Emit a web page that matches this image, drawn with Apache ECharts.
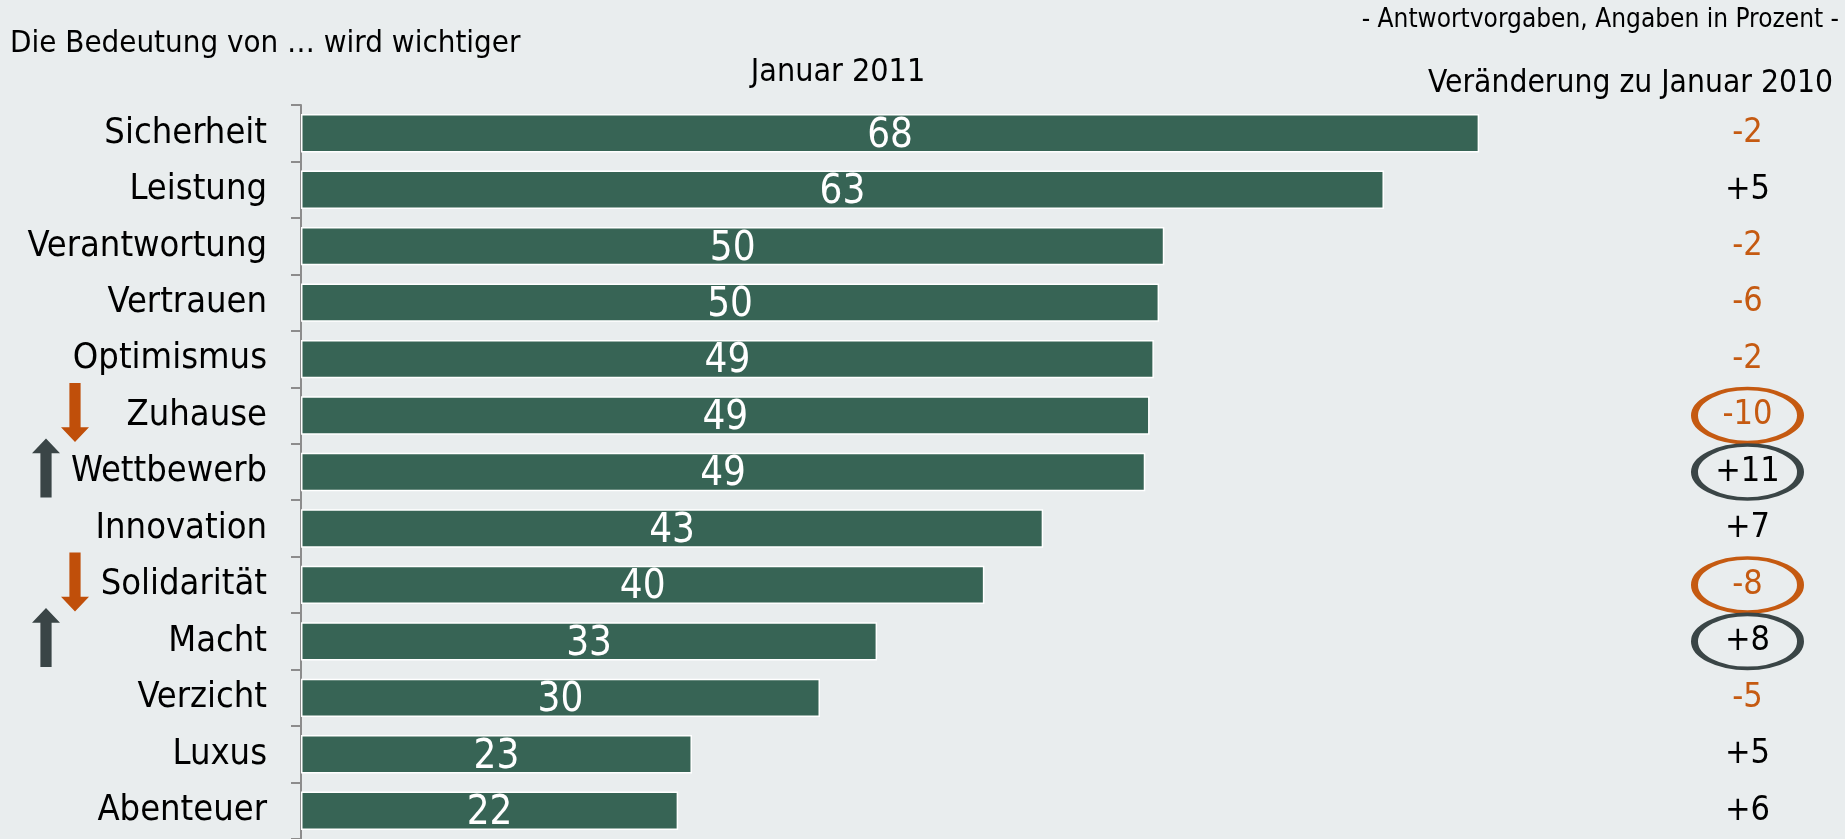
<!DOCTYPE html>
<html>
<head>
<meta charset="utf-8">
<script src="https://cdn.jsdelivr.net/npm/echarts@6/dist/echarts.min.js"></script>
<style>
html,body{margin:0;padding:0;background:#E9EDEE;}
#chart{width:1845px;height:839px;}
</style>
</head>
<body>
<div id="chart"></div>
<script>
// ---- data ----
const categories = ["Sicherheit","Leistung","Verantwortung","Vertrauen","Optimismus","Zuhause","Wettbewerb","Innovation","Solidarität","Macht","Verzicht","Luxus","Abenteuer"];
const values2011 = [68.1, 62.6, 49.9, 49.6, 49.3, 49.05, 48.8, 42.9, 39.5, 33.3, 30.0, 22.6, 21.8];
const changeVs2010 = [-2, 5, -2, -6, -2, -10, 11, 7, -8, 8, -5, 5, 6];
const highlighted = ["Zuhause","Wettbewerb","Solidarität","Macht"];
const titleText = "Die Bedeutung von … wird wichtiger";
const noteText = "- Antwortvorgaben, Angaben in Prozent -";
const col1Header = "Januar 2011";
const col2Header = "Veränderung zu Januar 2010";

// ---- styles ----
const FONT = "'DejaVu Sans Condensed', 'DejaVu Sans', sans-serif";
const BG = "#E9EDEE";
const BAR = "#376455";
const ORANGE = "#C55A11";
const DARK = "#3A4546";

const TOP = 105, HEIGHT = 737;

const fmtChange = v => (v > 0 ? "+" : "") + v;

const changeData = categories.map((c, i) => {
  const v = changeVs2010[i];
  const hl = highlighted.includes(c);
  return {
    value: [0, c],
    symbolSize: hl ? [106, 54] : 0,
    itemStyle: {color: 'rgba(0,0,0,0)', opacity: 1, borderColor: v < 0 ? ORANGE : DARK, borderWidth: hl ? 5 : 0},
    label: {color: v < 0 ? ORANGE : '#000000'},
    change: v
  };
});

const DOWN = 'path://M3,0 L7,0 L7,15 L10,15 L5,20 L0,15 L3,15 Z';
const UP = 'path://M5,0 L10,5 L7,5 L7,20 L3,20 L3,5 L0,5 Z';
const arrowData = categories.map((c, i) => ({c, v: changeVs2010[i]}))
  .filter(d => highlighted.includes(d.c))
  .map(d => ({
    value: [0, d.c],
    symbol: d.v < 0 ? DOWN : UP,
    symbolOffset: [d.v < 0 ? 15 : -14, d.v < 0 ? -3 : -4],
    itemStyle: {color: d.v < 0 ? '#C04F0A' : DARK, opacity: 1}
  }));

const chart = echarts.init(document.getElementById('chart'));
const catAxis = (gi, show) => ({
  type: 'category', gridIndex: gi, data: categories, inverse: true,
  axisLine: {show: show, lineStyle: {color: '#8C8C8C', width: 2}},
  axisTick: {show: show, length: 10, lineStyle: {color: '#8C8C8C', width: 2}},
  axisLabel: {show: show, color: '#000', fontSize: 36, fontFamily: FONT, margin: 34},
  splitLine: {show: false}
});
chart.setOption({
  backgroundColor: BG,
  animation: false,
  graphic: [
    {type: 'text', left: 10, top: 28, style: {text: titleText, font: "31px " + FONT, fill: '#000'}},
    {type: 'text', right: 6, top: 7, style: {text: noteText, font: "26px " + FONT, fill: '#000'}},
    {type: 'text', x: 838, y: 73, style: {text: col1Header, font: "32px " + FONT, fill: '#000', textAlign: 'center', textVerticalAlign: 'middle'}},
    {type: 'text', right: 12, top: 68, style: {text: col2Header, font: "31.5px " + FONT, fill: '#000'}}
  ],
  grid: [
    {left: 301, top: TOP, width: 1384, height: HEIGHT},
    {left: 1690, top: TOP, width: 115, height: HEIGHT},
    {left: 20, top: TOP, width: 80, height: HEIGHT}
  ],
  xAxis: [
    {type: 'value', gridIndex: 0, min: 0, max: 80, show: false},
    {type: 'value', gridIndex: 1, min: -1, max: 1, show: false},
    {type: 'value', gridIndex: 2, min: -1, max: 1, show: false}
  ],
  yAxis: [catAxis(0, true), catAxis(1, false), catAxis(2, false)],
  series: [
    {
      type: 'bar', xAxisIndex: 0, yAxisIndex: 0, data: values2011,
      barCategoryGap: '32%',
      itemStyle: {color: BAR, borderColor: '#FFFFFF', borderWidth: 1.5},
      label: {show: true, position: 'inside', color: '#FFFFFF', fontSize: 40, fontFamily: FONT,
        offset: [0, 3], formatter: p => Math.round(p.value)}
    },
    {
      type: 'scatter', xAxisIndex: 1, yAxisIndex: 1, symbol: 'circle', data: changeData,
      label: {show: true, position: 'inside', fontSize: 34, fontFamily: FONT,
        formatter: p => fmtChange(p.data.change)}
    },
    {
      type: 'scatter', xAxisIndex: 2, yAxisIndex: 2, symbolSize: [28, 59], data: arrowData
    }
  ]
});
</script>
</body>
</html>
